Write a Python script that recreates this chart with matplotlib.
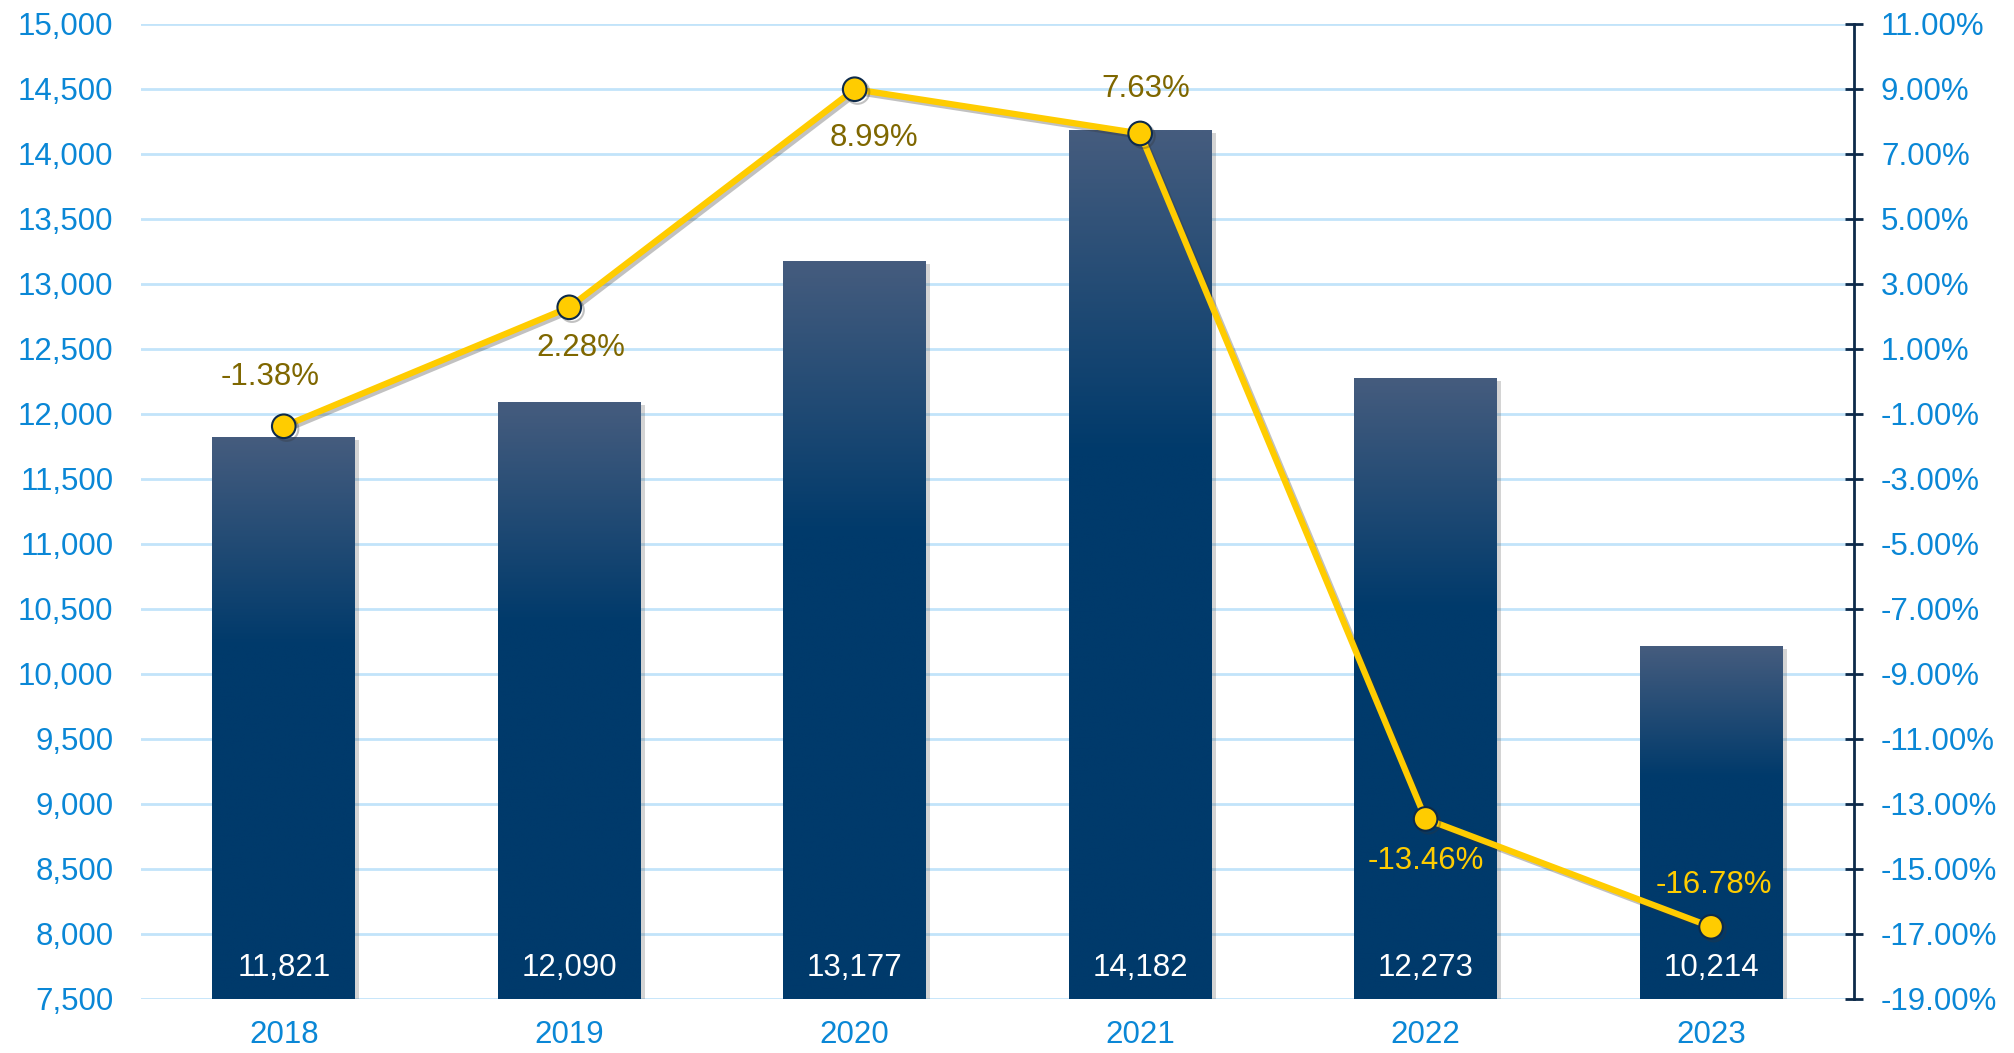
import matplotlib
matplotlib.use("Agg")
import matplotlib.pyplot as plt
import matplotlib.patheffects as pe
from matplotlib.colors import to_rgb
import numpy as np

plt.rcParams['font.family'] = ['Liberation Sans', 'DejaVu Sans']

# 数据
years = ["2018", "2019", "2020", "2021", "2022", "2023"]
amounts = [11821, 12090, 13177, 14182, 12273, 10214]
growth = [-1.38, 2.28, 8.99, 7.63, -13.46, -16.78]

# 增长率标签的偏移(像素)和颜色
label_offsets = [(-14, 49), (12, -41), (19, -49), (6, 44), (0, -42), (3, 42)]
label_colors = ["#7F6700"] * 4 + ["#FFCC00"] * 2

BLUE_TXT = "#0A87D6"
NAVY = "#003A6B"
NAVY_TOP = "#455C7E"
GOLD = "#FFCC00"
FS = 22.5

fig = plt.figure(figsize=(20.15, 10.53), dpi=100)
ax = fig.add_axes([0.070, 0.0513, 0.850, 0.926])
ax2 = ax.twinx()

x = np.arange(len(years))
ymin, ymax = 7500, 15000

# 柱子: 深蓝底色 + 阴影, 上面叠渐变
bars = ax.bar(x, [a - ymin for a in amounts], bottom=ymin, width=0.5, color=NAVY,
              zorder=3,
              path_effects=[pe.SimplePatchShadow(offset=(3, -2), alpha=0.25, shadow_rgbFace='#555555'),
                            pe.Normal()])

top = np.array(to_rgb(NAVY_TOP))
bot = np.array(to_rgb(NAVY))
for b, val in zip(bars, amounts):
    n = 200
    t = np.linspace(0, 1, n)  # 0 = 底部, 1 = 顶部
    f = np.clip((t - 0.63) / 0.37, 0, 1)[:, None]
    grad = bot + (top - bot) * f
    img = ax.imshow(grad[:, None, :], extent=[b.get_x(), b.get_x() + b.get_width(), ymin, val],
                    origin='lower', aspect='auto', zorder=3.5, interpolation='bilinear')
    img.set_clip_path(b)
    ax.annotate(f"{val:,}", (b.get_x() + b.get_width() / 2, ymin), xytext=(0, 31 * 0.72),
                textcoords='offset points', ha='center', va='center',
                color='white', fontsize=FS, zorder=5)

ax.set_xlim(-0.5, len(years) - 0.5)
ax.set_ylim(ymin, ymax)
ax.set_yticks(np.arange(ymin, ymax + 1, 500))
ax.yaxis.set_major_formatter(matplotlib.ticker.FuncFormatter(lambda v, p: f"{int(v):,}"))
ax.set_xticks(x)
ax.set_xticklabels(years)
ax.tick_params(axis='both', length=0, labelsize=FS, labelcolor=BLUE_TXT)
ax.tick_params(axis='y', pad=20)
ax.tick_params(axis='x', pad=15)
ax.grid(axis='y', color='#C2E4FA', linewidth=2, zorder=0)
ax.set_axisbelow(True)
for s in ax.spines.values():
    s.set_visible(False)

# 增长率折线
ax2.plot(x, growth, color=GOLD, linewidth=4.5, marker='o', markersize=17,
         markerfacecolor=GOLD, markeredgecolor='#0D2A4A', markeredgewidth=1.5, zorder=6,
         path_effects=[pe.SimpleLineShadow(offset=(2, -2), alpha=0.3, shadow_color='#333333'),
                       pe.Normal()])
for xi, g, (dx, dy), c in zip(x, growth, label_offsets, label_colors):
    ax2.annotate(f"{g:.2f}%", (xi, g), xytext=(dx * 0.72, dy * 0.72), textcoords='offset points',
                 ha='center', va='center', color=c, fontsize=FS, zorder=7)

ax2.set_ylim(-19, 11)
ax2.set_yticks(np.arange(-19, 11.1, 2))
ax2.yaxis.set_major_formatter(matplotlib.ticker.FuncFormatter(lambda v, p: f"{v:.2f}%"))
ax2.tick_params(axis='y', direction='inout', length=13, width=2, color='#0D2A4A',
                labelsize=FS, labelcolor=BLUE_TXT, pad=13)
for k in ['top', 'left', 'bottom']:
    ax2.spines[k].set_visible(False)
ax2.spines['right'].set_color('#0D2A4A')
ax2.spines['right'].set_linewidth(2)

fig.savefig("out.png", dpi=100)
